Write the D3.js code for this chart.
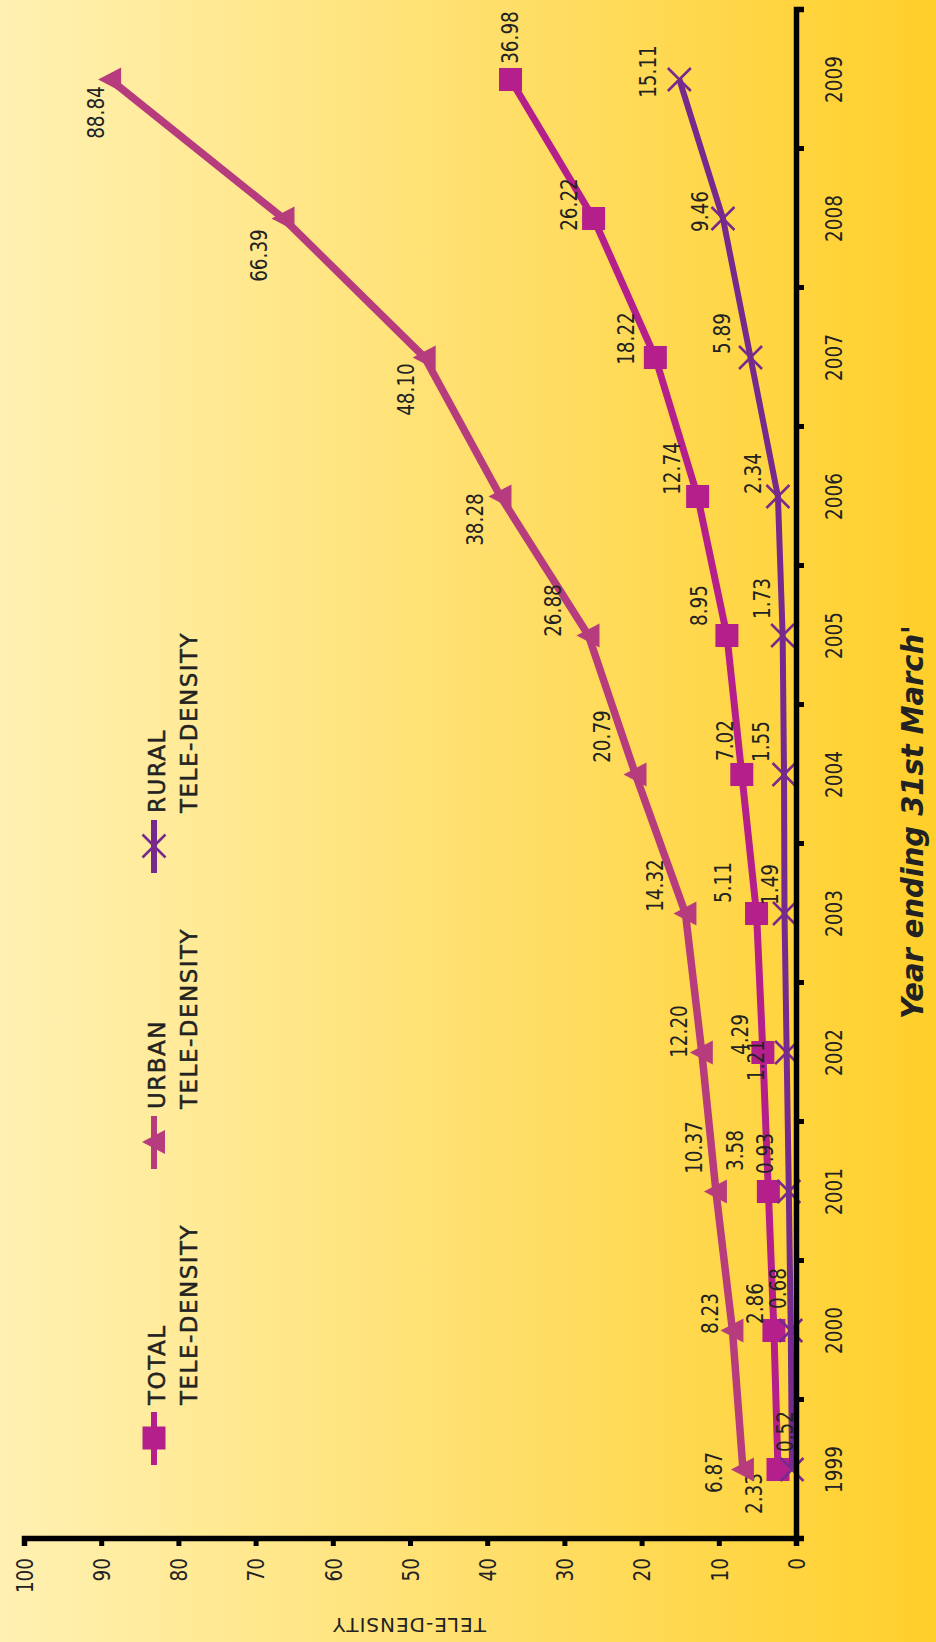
<!DOCTYPE html>
<html>
<head>
<meta charset="utf-8">
<script src="https://cdn.jsdelivr.net/npm/d3@7.9.0/dist/d3.min.js"></script>
<style>
  html, body { margin: 0; padding: 0; background: #ffe07a; }
  svg { display: block; }
  text { font-family: "DejaVu Sans", sans-serif; fill: #222; }
</style>
</head>
<body>
<svg id="chart"></svg>
<script>
// ------------------- Data -------------------
const years = [1999, 2000, 2001, 2002, 2003, 2004, 2005, 2006, 2007, 2008, 2009];
const total = [2.33, 2.86, 3.58, 4.29, 5.11, 7.02, 8.95, 12.74, 18.22, 26.22, 36.98];
const urban = [6.87, 8.23, 10.37, 12.20, 14.32, 20.79, 26.88, 38.28, 48.10, 66.39, 88.84];
const rural = [0.52, 0.68, 0.93, 1.21, 1.49, 1.55, 1.73, 2.34, 5.89, 9.46, 15.11];
const valueTicks = [0, 10, 20, 30, 40, 50, 60, 70, 80, 90, 100];

// label nudges [along years, across values], in px, kept apart from the values
const totalNudge = [[-24, -16], [27, -11], [41, -25], [18, -15], [31, -26], [34, -9],
  [30, -20], [28, -18], [19, -21], [14, -17], [42, 7]];
const urbanNudge = [[-3, -21], [17, -14], [44, -14], [21, -15], [28, -22], [38, -26],
  [25, -27], [-23, -17], [-32, -11], [-37, -16], [-33, -6]];
const ruralNudge = [[38, 1], [42, -5], [38, -16], [-8, -23], [29, -6], [33, -15],
  [37, -13], [23, -17], [24, -21], [7, -15], [8, -23]];

const series = [
  { key: 'total', label: ['TOTAL', 'TELE-DENSITY'], values: total, nudge: totalNudge, color: '#b51f8b', width: 7, marker: 'square' },
  { key: 'urban', label: ['URBAN', 'TELE-DENSITY'], values: urban, nudge: urbanNudge, color: '#b63c7d', width: 7.5, marker: 'triangle' },
  { key: 'rural', label: ['RURAL', 'TELE-DENSITY'], values: rural, nudge: ruralNudge, color: '#772a8d', width: 6, marker: 'cross' }
];

// ------------------- Setup -------------------
const W = 936, H = 1642;
const svg = d3.select('#chart').attr('width', W).attr('height', H);

const grad = svg.append('defs').append('linearGradient')
  .attr('id', 'bg').attr('x1', 0).attr('x2', 1).attr('y1', 0).attr('y2', 0);
grad.append('stop').attr('offset', '0%').attr('stop-color', '#fff1b3');
grad.append('stop').attr('offset', '100%').attr('stop-color', '#ffcf2a');
svg.append('rect').attr('width', W).attr('height', H).attr('fill', 'url(#bg)');

// the chart is drawn upright and then turned a quarter left
const g = svg.append('g').attr('transform', `translate(0,${H}) rotate(-90)`);

const x = d3.scaleLinear().domain([1998.5, 2009.5]).range([103, 1632]);
const y = d3.scaleLinear().domain([0, 100]).range([796, 24]);

// ------------------- Lines & markers -------------------
const line = d3.line().x(d => x(d.year)).y(d => y(d.value));

series.forEach(s => {
  const pts = years.map((year, i) => ({ year, value: s.values[i], nudge: s.nudge[i] }));
  const sg = g.append('g').attr('class', s.key);

  sg.append('path')
    .datum(pts)
    .attr('d', line)
    .attr('fill', 'none')
    .attr('stroke', s.color)
    .attr('stroke-width', s.width)
    .attr('stroke-linejoin', 'round');

  const m = sg.selectAll('g.mk')
    .data(pts)
    .join('g')
    .attr('class', 'mk')
    .attr('transform', d => `translate(${x(d.year)},${y(d.value)})`);
  drawMarker(m, s);

  sg.selectAll('text.lbl')
    .data(pts)
    .join('text')
    .attr('class', 'lbl')
    .attr('transform', d => `translate(${x(d.year) + d.nudge[0]},${y(d.value) + d.nudge[1]}) scale(0.8,1)`)
    .attr('text-anchor', 'middle')
    .style('font-size', '23px')
    .text(d => d.value.toFixed(2));
});

function drawMarker(sel, s) {
  if (s.marker === 'square') {
    sel.append('rect')
      .attr('x', -11.5).attr('y', -11.5).attr('width', 23).attr('height', 23)
      .attr('fill', s.color);
  } else if (s.marker === 'triangle') {
    sel.append('path')
      .attr('d', 'M0,-12L12,11L-12,11Z')
      .attr('fill', s.color);
  } else {
    sel.append('path')
      .attr('d', 'M-11.5,-11.5L11.5,11.5M-11.5,11.5L11.5,-11.5')
      .attr('stroke', s.color)
      .attr('stroke-width', 2.5)
      .attr('fill', 'none');
  }
}

// ------------------- Axes -------------------
const yearAxis = g.append('g')
  .attr('transform', `translate(0,${y(0)})`)
  .call(d3.axisBottom(x)
    .tickValues(d3.range(1999.5, 2009, 1))
    .tickFormat('')
    .tickSize(8)
    .tickSizeOuter(8));

const valueAxis = g.append('g')
  .attr('transform', `translate(${x.range()[0]},0)`)
  .call(d3.axisLeft(y)
    .tickValues(valueTicks)
    .tickSize(7)
    .tickSizeOuter(7));

[yearAxis, valueAxis].forEach(a => {
  a.select('.domain').attr('stroke', '#000').attr('stroke-width', 5.5);
  a.selectAll('.tick line').attr('stroke', '#000').attr('stroke-width', 5);
});

valueAxis.selectAll('.tick text')
  .attr('x', null)
  .attr('dy', '0.36em')
  .attr('transform', 'translate(-19,0) scale(0.8,1)')
  .attr('text-anchor', 'end')
  .attr('fill', '#222')
  .style('font-size', '23px')
  .style('font-family', '"DejaVu Sans", sans-serif');

g.append('g').selectAll('text')
  .data(years)
  .join('text')
  .attr('transform', d => `translate(${x(d)},${y(0) + 46}) scale(0.8,1)`)
  .attr('text-anchor', 'middle')
  .style('font-size', '23px')
  .text(d => d);

// axis titles
g.append('text')
  .attr('transform', `translate(820,923)`)
  .attr('text-anchor', 'middle')
  .attr('textLength', 394)
  .attr('lengthAdjust', 'spacingAndGlyphs')
  .style('font-size', '30px')
  .style('font-weight', 'bold')
  .style('font-style', 'italic')
  .text("Year ending 31st March'");

g.append('text')
  .attr('transform', 'translate(24,409) rotate(-90)')
  .attr('text-anchor', 'middle')
  .style('font-size', '20px')
  .style('letter-spacing', '1px')
  .text('TELE-DENSITY');

// ------------------- Legend -------------------
const legend = g.append('g').attr('class', 'legend');
series.forEach((s, i) => {
  const x0 = 177 + i * 296;
  const item = legend.append('g').attr('transform', `translate(${x0},154)`);
  item.append('line')
    .attr('x1', 0).attr('x2', 53)
    .attr('stroke', s.color).attr('stroke-width', 6);
  drawMarker(item.append('g').attr('transform', 'translate(27,0)'), s);
  s.label.forEach((t, j) => {
    item.append('text')
      .attr('x', 60)
      .attr('y', 11 + j * 32)
      .style('font-size', '23px')
      .style('letter-spacing', '1.5px')
      .style('stroke', '#222')
      .style('stroke-width', 0.5)
      .text(t);
  });
});
</script>
</body>
</html>
